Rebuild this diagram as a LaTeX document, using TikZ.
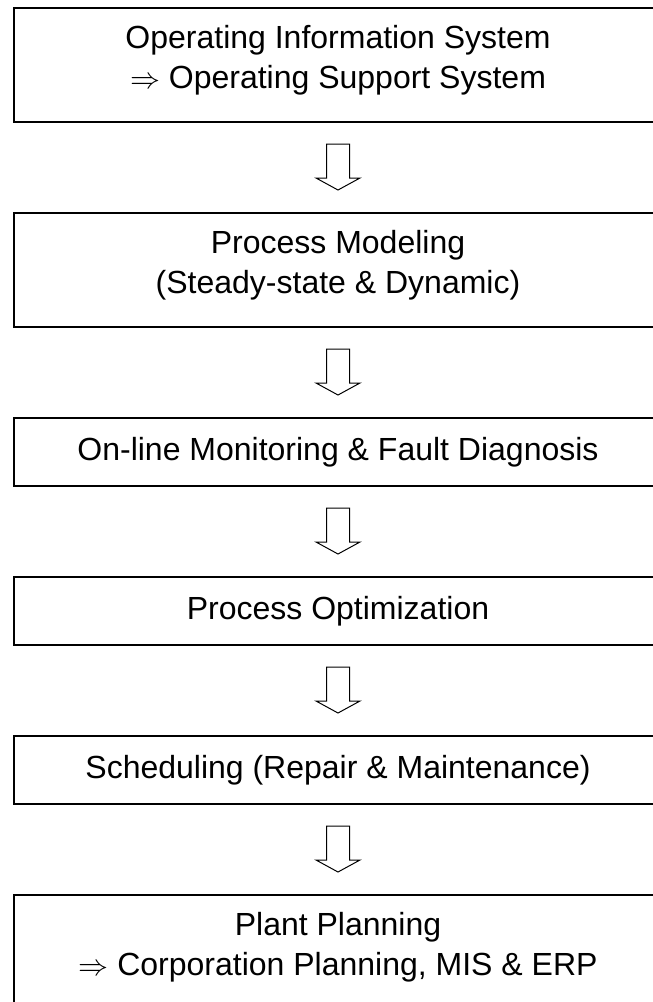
\documentclass[tikz,border=0pt]{standalone}
\usepackage{graphicx}
\usepackage{fontspec}
\setmainfont{Liberation Sans}
\usetikzlibrary{calc}
\newcommand\uptext[2]{\raisebox{#1}[\height][\depth]{\begin{tabular}{@{}c@{}}#2\end{tabular}}}
\newcommand\bigimp{\resizebox{30pt}{!}{$\Rightarrow$}}
\begin{document}
\begin{tikzpicture}[x=1pt,y=-1pt,
  box/.style={draw, line width=1.4pt, minimum width=648pt, inner sep=0pt, align=center, font=\fontsize{32}{40}\selectfont},
  tall/.style={minimum height=114pt},
  short/.style={minimum height=68pt},
  downarrow/.pic={\draw[line width=1pt, line join=miter] (-11.5,-23.5) -- (11.5,-23.5) -- (11.5,10.5) -- (22,10.5) -- (0,22.5) -- (-22,10.5) -- (-11.5,10.5) -- cycle;}]
\useasboundingbox (0,0) rectangle (653,1002);
\clip (0,0) rectangle (653,1002);
\node[box,tall]  (b1) at (338,65)  {\uptext{5pt}{Operating Information System\\\bigimp{} Operating Support System}};
\node[box,tall]  (b2) at (338,270) {\uptext{5pt}{Process Modeling\\(Steady-state \& Dynamic)}};
\node[box,short] (b3) at (338,452) {On-line Monitoring \& Fault Diagnosis};
\node[box,short] (b4) at (338,611) {Process Optimization};
\node[box,short] (b5) at (338,770) {Scheduling (Repair \& Maintenance)};
\node[box,tall]  (b6) at (338,952) {\uptext{5pt}{Plant Planning\\\bigimp{} Corporation Planning, MIS \& ERP}};
\foreach \a/\b [count=\i] in {b1/b2,b2/b3,b3/b4,b4/b5,b5/b6}{
  \coordinate (g\i) at ($(\a.south)!0.5!(\b.north)$);
  \pic at (g\i) {downarrow};
}
\end{tikzpicture}
\end{document}
